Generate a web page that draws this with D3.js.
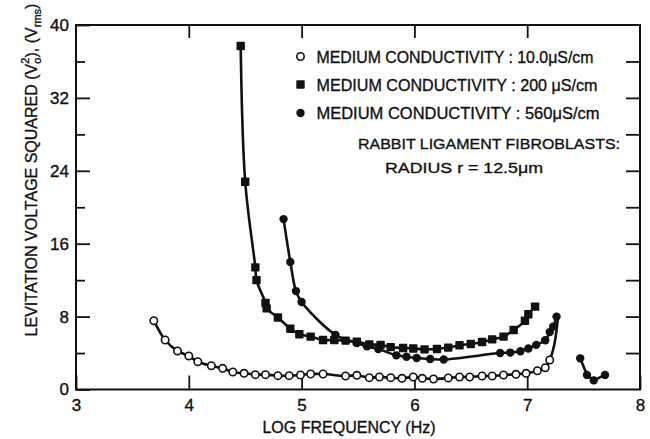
<!DOCTYPE html>
<html>
<head>
<meta charset="utf-8">
<script src="https://cdn.jsdelivr.net/npm/d3@7"></script>
<style>
  html, body { margin: 0; padding: 0; background: #fff; }
  svg { display: block; font-family: "Liberation Sans", Arial, sans-serif; }
  svg text { stroke: #111; stroke-width: 0.35px; }
</style>
</head>
<body>
<svg id="chart" width="650" height="439"></svg>
<script>
// Levitation voltage squared vs log frequency, three medium conductivities
const xTicks = [3, 4, 5, 6, 7, 8];
const xInnerTicks = [4, 5, 6, 7];
const yTicks = [0, 8, 16, 24, 32, 40];
const yMinorTicks = [4, 12, 20, 28, 36];
const yRightTicks = [4, 8, 12, 16, 20, 24, 28, 32, 36];

// 10.0 uS/cm (open circles): [log f, V^2]
const cond10 = [
  [3.69, 7.55], [3.79, 5.43], [3.90, 4.23], [4.00, 3.68], [4.08, 3.05],
  [4.20, 2.61], [4.30, 2.32], [4.39, 1.92], [4.49, 1.78], [4.59, 1.63],
  [4.68, 1.63], [4.79, 1.52], [4.89, 1.52], [4.99, 1.59], [5.08, 1.70],
  [5.19, 1.70], [5.39, 1.48], [5.49, 1.56], [5.60, 1.30], [5.69, 1.37],
  [5.79, 1.30], [5.89, 1.23], [5.99, 1.37], [6.07, 1.23], [6.17, 1.15],
  [6.30, 1.26], [6.40, 1.37], [6.49, 1.37], [6.60, 1.48], [6.69, 1.48],
  [6.79, 1.59], [6.90, 1.67], [6.99, 1.78], [7.09, 2.06], [7.16, 2.39],
  [7.20, 3.24]
];
// fitted curve continues upward beyond the last open circle
const cond10Tail = [[7.20, 3.24], [7.24, 4.9], [7.27, 7.6]];

// 200 uS/cm (filled squares)
const cond200 = [
  [4.46, 37.7], [4.50, 22.8], [4.59, 13.4], [4.60, 12.0], [4.68, 9.5],
  [4.69, 8.9], [4.79, 7.9], [4.90, 6.67], [4.98, 6.06], [5.08, 5.8],
  [5.19, 5.43], [5.29, 5.43], [5.39, 5.36], [5.49, 5.25], [5.60, 4.95],
  [5.70, 4.9], [5.79, 4.65], [5.90, 4.55], [5.99, 4.5], [6.09, 4.4],
  [6.20, 4.45], [6.30, 4.6], [6.40, 4.85], [6.50, 5.0], [6.60, 5.21],
  [6.69, 5.5], [6.79, 5.8], [6.88, 6.53], [6.98, 7.55], [7.01, 8.25],
  [7.07, 9.1]
];

// 560 uS/cm (filled circles)
const cond560 = [
  [4.84, 18.7], [4.90, 14.0], [4.95, 10.8], [5.00, 9.6], [5.30, 6.0],
  [5.49, 5.1], [5.58, 4.75], [5.68, 4.45], [5.84, 3.75], [5.93, 3.6],
  [6.02, 3.45], [6.14, 3.35], [6.26, 3.3], [6.76, 4.0], [6.85, 4.05],
  [6.94, 4.2], [7.01, 4.5], [7.08, 4.9], [7.16, 5.4], [7.20, 6.3],
  [7.23, 6.9], [7.26, 8.0]
];
const cond560High = [[7.47, 3.42], [7.53, 1.6], [7.59, 1.0], [7.69, 1.6]];

const legendItems = [
  { shape: "open",   label: "MEDIUM CONDUCTIVITY : 10.0\u03bcS/cm" },
  { shape: "square", label: "MEDIUM CONDUCTIVITY : 200 \u03bcS/cm" },
  { shape: "dot",    label: "MEDIUM CONDUCTIVITY : 560\u03bcS/cm" }
];

const svg = d3.select("#chart");
const plotL = 76, plotR = 640, plotT = 25, plotB = 389.5;
const x = d3.scaleLinear().domain([3, 8]).range([plotL, plotR]);
const y = d3.scaleLinear().domain([0, 40]).range([plotB, plotT]);

const ink = "#111";

// frame
svg.append("rect")
  .attr("x", plotL).attr("y", plotT)
  .attr("width", plotR - plotL).attr("height", plotB - plotT)
  .attr("fill", "none").attr("stroke", ink).attr("stroke-width", 2);

function styleAxis(g) {
  g.select(".domain").remove();
  g.selectAll(".tick line").attr("stroke", ink).attr("stroke-width", 1.8);
  g.selectAll(".tick text")
    .attr("fill", ink)
    .style("font-size", "17px")
    .style("font-family", "'Liberation Sans', Arial, sans-serif");
}

// bottom axis: labels at every decade, ticks inward
svg.append("g")
  .attr("transform", `translate(0,${plotB})`)
  .call(d3.axisBottom(x).tickValues(xTicks).tickSizeInner(-14).tickSizeOuter(0)
        .tickPadding(9).tickFormat(d3.format("d")))
  .call(styleAxis);

// top axis ticks
svg.append("g")
  .attr("transform", `translate(0,${plotT})`)
  .call(d3.axisTop(x).tickValues(xInnerTicks).tickSizeInner(-13).tickSizeOuter(0).tickFormat(""))
  .call(styleAxis);

// left axis
svg.append("g")
  .attr("transform", `translate(${plotL},0)`)
  .call(d3.axisLeft(y).tickValues(yTicks).tickSizeInner(-14).tickSizeOuter(0)
        .tickPadding(7).tickFormat(d3.format("d")))
  .call(styleAxis);
svg.append("g")
  .attr("transform", `translate(${plotL},0)`)
  .call(d3.axisLeft(y).tickValues(yMinorTicks).tickSizeInner(-9).tickSizeOuter(0).tickFormat(""))
  .call(styleAxis);

// right axis ticks
svg.append("g")
  .attr("transform", `translate(${plotR},0)`)
  .call(d3.axisRight(y).tickValues(yRightTicks).tickSizeInner(-14).tickSizeOuter(0).tickFormat(""))
  .call(styleAxis);

// axis titles
svg.append("text")
  .attr("x", 349).attr("y", 433)
  .attr("text-anchor", "middle")
  .attr("fill", ink)
  .style("font-size", "16px")
  .text("LOG FREQUENCY (Hz)");

const yTitle = svg.append("text")
  .attr("transform", "translate(37,170) rotate(-90)")
  .attr("text-anchor", "middle")
  .attr("fill", ink)
  .style("font-size", "16px");
yTitle.append("tspan").text("LEVITATION VOLTAGE SQUARED (V");
yTitle.append("tspan").attr("dy", 4).style("font-size", "11px").text("o");
yTitle.append("tspan").attr("dx", -6).attr("dy", -12).style("font-size", "11px").text("2");
yTitle.append("tspan").attr("dy", 8).text("), (V");
yTitle.append("tspan").attr("dy", 4).style("font-size", "11px").text("rms");
yTitle.append("tspan").attr("dy", -4).text(")");

// curves
const curve = d3.line()
  .x(d => x(d[0])).y(d => y(d[1]))
  .curve(d3.curveCatmullRom.alpha(0.5));
const straight = d3.line().x(d => x(d[0])).y(d => y(d[1]));

const lineStyle = sel => sel.attr("fill", "none").attr("stroke", ink)
  .attr("stroke-width", 2.6).attr("stroke-linejoin", "round").attr("stroke-linecap", "round");

svg.append("path").datum(cond10.concat(cond10Tail.slice(1))).attr("d", curve).call(lineStyle);
svg.append("path").datum(cond200).attr("d", curve).call(lineStyle);
svg.append("path").datum(cond560).attr("d", curve).call(lineStyle);
svg.append("path").datum(cond560High).attr("d", straight).call(lineStyle);

// markers
function drawMarker(g, shape, cx, cy) {
  if (shape === "square") {
    g.append("rect").attr("x", cx - 4.2).attr("y", cy - 4.2)
      .attr("width", 8.4).attr("height", 8.4).attr("rx", 0.8).attr("fill", ink);
  } else if (shape === "dot") {
    g.append("circle").attr("cx", cx).attr("cy", cy).attr("r", 4.2).attr("fill", ink);
  } else {
    g.append("circle").attr("cx", cx).attr("cy", cy).attr("r", 3.7)
      .attr("fill", "#fff").attr("stroke", ink).attr("stroke-width", 1.6);
  }
}

const marks = svg.append("g");
cond200.forEach(d => drawMarker(marks, "square", x(d[0]), y(d[1])));
cond560.forEach(d => drawMarker(marks, "dot", x(d[0]), y(d[1])));
cond560High.forEach(d => drawMarker(marks, "dot", x(d[0]), y(d[1])));
cond10.forEach(d => drawMarker(marks, "open", x(d[0]), y(d[1])));

// legend
const legendRowY = [62.5, 90.5, 119];
const legendWidths = [277, 281, 283];
legendItems.forEach((item, i) => {
  drawMarker(svg, item.shape, 300.5, legendRowY[i] - 6);
  svg.append("text")
    .attr("x", 316.5).attr("y", legendRowY[i])
    .attr("fill", ink)
    .attr("textLength", legendWidths[i]).attr("lengthAdjust", "spacingAndGlyphs")
    .style("font-size", "16.5px")
    .text(item.label);
});

// cell annotation
svg.append("text")
  .attr("x", 358).attr("y", 148.5)
  .attr("fill", ink)
  .attr("textLength", 262).attr("lengthAdjust", "spacingAndGlyphs")
  .style("font-size", "15.5px")
  .text("RABBIT LIGAMENT FIBROBLASTS:");
svg.append("text")
  .attr("x", 385).attr("y", 172.5)
  .attr("fill", ink)
  .attr("textLength", 158).attr("lengthAdjust", "spacingAndGlyphs")
  .style("font-size", "15.5px")
  .text("RADIUS r = 12.5\u03bcm");
</script>
</body>
</html>
